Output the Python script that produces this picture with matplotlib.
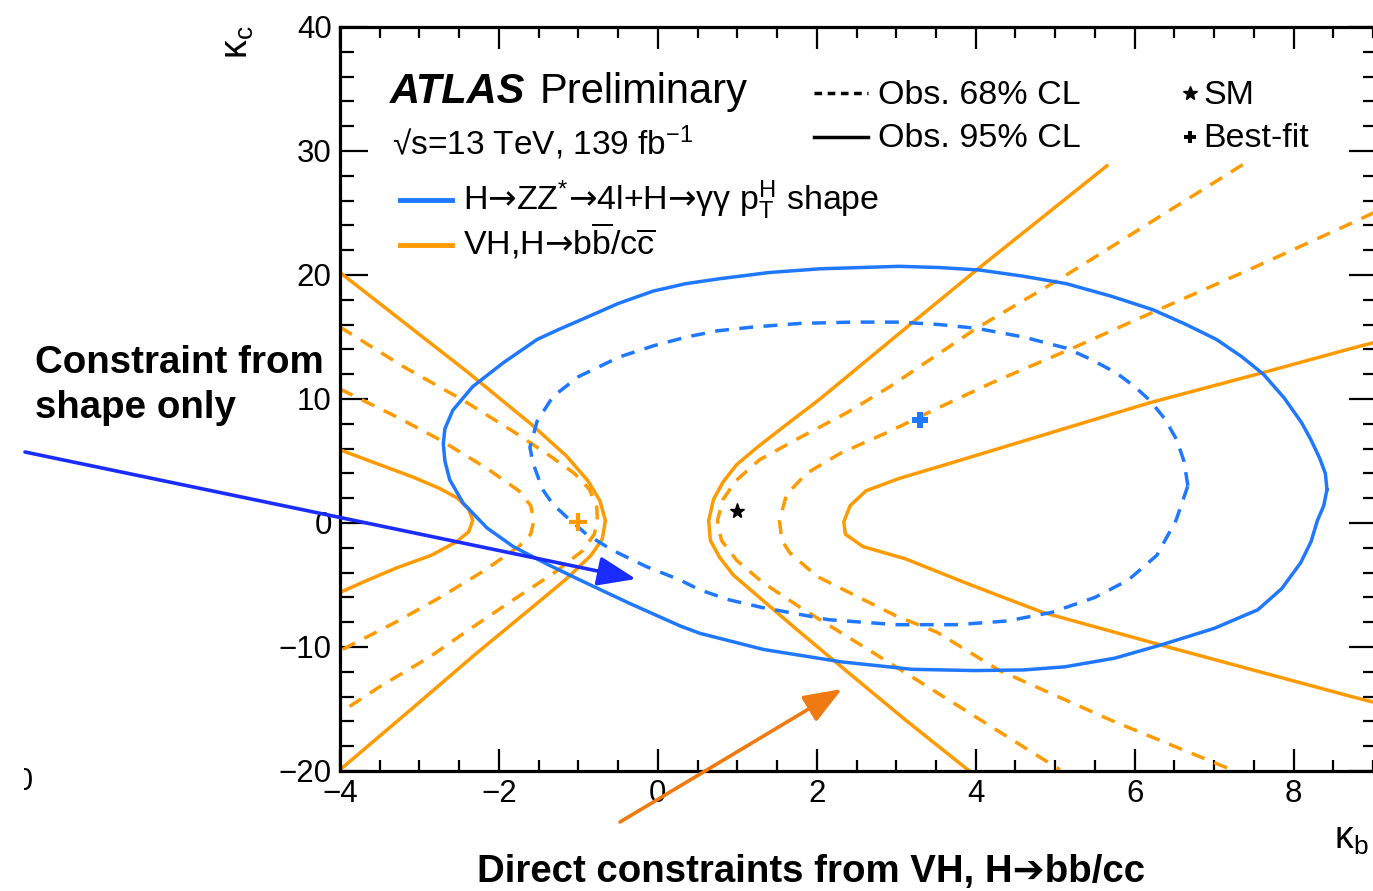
import matplotlib
matplotlib.use("Agg")
import matplotlib.pyplot as plt
from matplotlib.lines import Line2D
from matplotlib.patches import FancyArrowPatch
from matplotlib.ticker import MultipleLocator
from matplotlib.transforms import Bbox

plt.rcParams["font.family"] = ["Liberation Sans", "DejaVu Sans"]
plt.rcParams["mathtext.fontset"] = "custom"
plt.rcParams["mathtext.rm"] = "Liberation Sans"
plt.rcParams["mathtext.it"] = "Liberation Sans:italic"
plt.rcParams["mathtext.bf"] = "Liberation Sans:bold"
plt.rcParams["mathtext.sf"] = "DejaVu Sans"
plt.rcParams["mathtext.fallback"] = "stix"

BLUE = "#1f78ff"
ORANGE = "#ff9a00"

# ---- pT shape constraint (closed contours) ----
kb_shape95 = [8.42, 8.40, 8.33, 8.22, 8.10, 7.88, 7.62, 7.35, 7.03, 6.65, 6.23, 5.70,
              5.14, 4.60, 4.05, 3.55, 3.04, 2.04, 1.40, 0.78, 0.35, -0.06, -0.50,
              -0.89, -1.25, -1.52, -1.95, -2.33, -2.58, -2.68, -2.70, -2.68, -2.62,
              -2.45, -2.15, -1.82, -1.40, -0.98, -0.35, 0.28, 0.53, 1.33, 2.31, 3.20,
              3.99, 4.60, 5.12, 5.75, 6.35, 7.00, 7.55, 7.85, 8.09, 8.22, 8.30, 8.38,
              8.42]
kc_shape95 = [2.7, 4.0, 5.2, 6.7, 8.1, 10.1, 12.0, 13.4, 14.8, 16.0, 17.2, 18.3,
              19.3, 19.9, 20.4, 20.6, 20.7, 20.5, 20.2, 19.7, 19.3, 18.7, 17.7,
              16.6, 15.6, 14.8, 12.9, 11.0, 9.1, 7.6, 6.4, 5.0, 3.5,
              1.6, -0.4, -1.9, -3.3, -4.6, -6.5, -8.3, -8.9, -10.2, -11.2, -11.8,
              -11.9, -11.85, -11.6, -10.9, -9.8, -8.5, -7.0, -5.3, -3.2, -1.5, 0.2, 1.4,
              2.7]

kb_shape68 = [6.67, 6.62, 6.53, 6.38, 6.19, 6.00, 5.77, 5.45, 5.14, 4.60, 4.01, 3.55,
              3.04, 2.45, 1.80, 1.19, 0.75, 0.36, -0.05, -0.48, -1.00, -1.32, -1.52,
              -1.61, -1.57, -1.45, -1.32, -1.15, -0.90, -0.57, -0.15, 0.28, 0.53, 0.90,
              1.30, 2.15, 3.00, 3.76, 4.40, 4.96, 5.50, 5.92, 6.28, 6.52, 6.67]
kc_shape68 = [3.0, 5.0, 6.7, 8.4, 9.9, 11.0, 12.1, 13.2, 14.1, 15.0, 15.7, 16.0,
              16.2, 16.2, 16.1, 15.8, 15.5, 15.0, 14.3, 13.4, 11.8, 10.2, 8.2,
              6.1, 4.8, 2.7, 1.5, 0.5, -0.9, -2.2, -3.5, -4.6, -5.4, -6.2,
              -6.8, -7.8, -8.2, -8.2, -7.9, -7.2, -6.0, -4.6, -2.6, 0.2, 3.0]

# ---- VH, H->bb/cc contours (open branches) ----
kb_vh95_l_out = [-4.0, -3.2, -2.4, -1.6, -1.15, -0.88, -0.73, -0.66, -0.70, -0.84,
                 -1.15, -1.6, -2.3, -3.1, -4.0]
kc_vh95_l_out = [20.2, 16.2, 12.2, 8.0, 5.4, 3.4, 1.8, 0.2, -1.3, -2.6,
                 -4.5, -6.9, -10.6, -15.0, -19.9]
kb_vh95_l_in = [-4.0, -3.5, -3.08, -2.75, -2.52, -2.38, -2.33, -2.38, -2.53, -2.85,
                -3.28, -3.65, -4.0]
kc_vh95_l_in = [5.9, 4.7, 3.7, 2.8, 2.0, 1.1, 0.2, -0.7, -1.5, -2.6, -3.6, -4.6, -5.6]
kb_vh68_l_out = [-4.0, -3.2, -2.45, -1.8, -1.4, -1.05, -0.86, -0.77, -0.76, -0.80,
                 -0.94, -1.3, -1.82, -2.4, -2.87, -3.5, -4.0]
kc_vh68_l_out = [15.8, 12.6, 9.9, 7.3, 5.6, 4.0, 2.7, 1.3, 0.2, -0.9,
                 -2.2, -4.0, -6.2, -8.7, -10.8, -13.2, -15.3]
kb_vh68_l_in = [-4.0, -3.3, -2.74, -2.15, -1.75, -1.60, -1.56, -1.60, -1.75, -2.2,
                -2.74, -3.3, -4.0]
kc_vh68_l_in = [10.8, 8.6, 6.7, 4.4, 2.6, 1.4, 0.2, -0.9, -1.9, -3.9, -6.0, -8.0, -10.3]

kb_vh95_r_out = [5.65, 4.01, 3.04, 2.04, 1.57, 1.25, 0.99, 0.82, 0.70, 0.64, 0.66,
                 0.78, 0.95, 1.35, 1.75, 2.31, 3.1, 3.92]
kc_vh95_r_out = [28.8, 20.4, 15.3, 10.0, 7.7, 6.1, 4.7, 3.3, 1.9, 0.2, -1.4,
                 -2.8, -4.2, -6.4, -8.6, -11.6, -15.8, -20.0]
kb_vh95_r_in = [9.1, 8.74, 7.6, 6.19, 3.67, 3.04, 2.62, 2.42, 2.34, 2.36, 2.58,
                3.12, 3.9, 4.84, 6.42, 8.73, 9.1]
kc_vh95_r_in = [14.7, 14.1, 12.1, 9.7, 4.8, 3.6, 2.6, 1.4, 0.1, -0.9, -1.9,
                -2.9, -4.9, -7.2, -10.0, -14.0, -14.6]
kb_vh68_r_out = [7.36, 5.09, 4.01, 2.92, 2.38, 1.79, 1.28, 0.98, 0.82, 0.75, 0.80,
                 0.99, 1.32, 1.79, 3.07, 5.06]
kc_vh68_r_out = [28.9, 19.8, 15.7, 11.0, 8.9, 6.9, 5.1, 3.4, 1.9, 0.2, -1.4,
                 -3.0, -4.8, -6.8, -11.9, -19.9]
kb_vh68_r_in = [9.1, 8.77, 7.5, 6.23, 5.22, 4.2, 3.5, 2.92, 2.29, 1.87, 1.62, 1.53,
                1.56, 1.66, 2.0, 2.5, 3.0, 3.51, 4.30, 5.7, 7.22]
kc_vh68_r_in = [25.3, 24.3, 20.6, 17.0, 14.1, 11.3, 9.2, 7.4, 5.6, 4.0, 2.3, 0.2,
                -1.4, -2.4, -4.3, -5.9, -7.5, -8.8, -11.9, -15.9, -19.9]

# points: SM, best fits
sm_point = (1.0, 1.0)
bestfit_shape = (3.3, 8.3)
bestfit_vh = (-1.0, 0.1)

W, H = 1373, 891
fig = plt.figure(figsize=(W / 100, H / 100), dpi=100)
ax = fig.add_axes([340 / W, 120 / H, 1037 / W, 744 / H])
ax.set_xlim(-4, 9.05)
ax.set_ylim(-20, 40)

lw = 2.5
dash = (0, (4, 3))

vh_solid = [(kb_vh95_l_out, kc_vh95_l_out), (kb_vh95_l_in, kc_vh95_l_in),
            (kb_vh95_r_out, kc_vh95_r_out), (kb_vh95_r_in, kc_vh95_r_in)]
vh_dashed = [(kb_vh68_l_out, kc_vh68_l_out), (kb_vh68_l_in, kc_vh68_l_in),
             (kb_vh68_r_out, kc_vh68_r_out), (kb_vh68_r_in, kc_vh68_r_in)]
for xs, ys in vh_solid:
    ax.plot(xs, ys, color=ORANGE, lw=lw, solid_joinstyle="round")
for xs, ys in vh_dashed:
    ax.plot(xs, ys, color=ORANGE, lw=lw, ls=dash)

ax.plot(kb_shape95, kc_shape95, color=BLUE, lw=lw, solid_joinstyle="round")
ax.plot(kb_shape68, kc_shape68, color=BLUE, lw=lw, ls=dash)

ax.plot(*sm_point, marker="*", color="black", ms=11, zorder=5)
ax.plot(*bestfit_shape, marker="P", color=BLUE, ms=12, mew=0, zorder=5)
ax.plot(*bestfit_vh, marker="+", color=ORANGE, ms=13, mew=3, zorder=5)

# ROOT-like frame and ticks
ax.xaxis.set_major_locator(MultipleLocator(2))
ax.xaxis.set_minor_locator(MultipleLocator(0.5))
ax.yaxis.set_major_locator(MultipleLocator(10))
ax.yaxis.set_minor_locator(MultipleLocator(2))
ax.tick_params(which="both", direction="in", top=True, right=True, width=1.6,
               labelsize=22.5, pad=6)
ax.tick_params(axis="x", which="major", length=16)
ax.tick_params(axis="x", which="minor", length=8)
ax.tick_params(axis="y", which="major", length=20)
ax.tick_params(axis="y", which="minor", length=10)
for sp in ax.spines.values():
    sp.set_linewidth(2.3)


def px(x, y):
    return x / W, 1 - y / H


# axis titles
fig.text(*px(238, 42), "κ$_\\mathrm{c}$", rotation=90, ha="center", va="center",
         fontsize=27)
fig.text(*px(1334, 849), "κ$_\\mathrm{b}$", ha="left", va="baseline", fontsize=27)

# ATLAS label
fig.text(*px(390, 103), "ATLAS", fontsize=30, fontweight="bold", fontstyle="italic",
         va="baseline")
fig.text(*px(540, 103), "Preliminary", fontsize=30, va="baseline")
fig.text(*px(392, 155), "√s=13 TeV, 139 fb$^{-1}$", fontsize=24, va="baseline")

# channel legend (arrow glyph from DejaVu, no relation spacing)
arrow = "$\\mathsf{\u2192}$"
fig.add_artist(Line2D([400 / W, 452 / W], [1 - 200 / H] * 2, color=BLUE, lw=3.5,
                      transform=fig.transFigure))
fig.add_artist(Line2D([400 / W, 452 / W], [1 - 245 / H] * 2, color=ORANGE, lw=3.5,
                      transform=fig.transFigure))
fig.text(*px(463, 210),
         f"H{arrow}ZZ$^{{*}}${arrow}4l+H{arrow}γγ p$_{{\\mathrm{{T}}}}^{{\\mathrm{{H}}}}$ shape",
         fontsize=24.5, va="baseline")
fig.text(*px(463, 255),
         f"VH,H{arrow}b$\\overline{{\\mathrm{{b}}}}$/c$\\overline{{\\mathrm{{c}}}}$",
         fontsize=24.5, va="baseline")

# CL legend
fig.add_artist(Line2D([814 / W, 868 / W], [1 - 93 / H] * 2, color="black", lw=2.5,
                      ls=(0, (2.2, 1.6)), transform=fig.transFigure))
fig.add_artist(Line2D([814 / W, 868 / W], [1 - 137 / H] * 2, color="black", lw=2.5,
                      transform=fig.transFigure))
fig.text(*px(878, 104), "Obs. 68% CL", fontsize=24.5, va="baseline")
fig.text(*px(878, 147), "Obs. 95% CL", fontsize=24.5, va="baseline")
fig.add_artist(Line2D([1190 / W], [1 - 93 / H], marker="*", color="black", ms=10,
                      transform=fig.transFigure))
fig.add_artist(Line2D([1190 / W], [1 - 137 / H], marker="P", color="black", ms=9,
                      mew=0, transform=fig.transFigure))
fig.text(*px(1203, 104), "SM", fontsize=24.5, va="baseline")
fig.text(*px(1203, 147), "Best-fit", fontsize=24.5, va="baseline")

# annotations
fig.text(*px(35, 373), "Constraint from", fontsize=27.7, fontweight="bold",
         va="baseline")
fig.text(*px(35, 418), "shape only", fontsize=27.7, fontweight="bold", va="baseline")
fig.text(*px(477, 882), "Direct constraints from VH, H➔bb/cc", fontsize=27.6,
         fontweight="bold", va="baseline")

fig.add_artist(FancyArrowPatch(px(25, 452), px(636, 579), transform=fig.transFigure,
                               arrowstyle="-|>,head_length=1.3,head_width=0.5",
                               mutation_scale=18, lw=2.6, color="#1a2cff",
                               shrinkA=0, shrinkB=0))
fig.add_artist(FancyArrowPatch(px(620, 822), px(842, 689), transform=fig.transFigure,
                               arrowstyle="-|>,head_length=1.3,head_width=0.5",
                               mutation_scale=18, lw=2.6, color="#f07a12",
                               shrinkA=0, shrinkB=0))

# partial label at the lower left edge
t = fig.text(*px(33, 782), "0", fontsize=22, ha="right", va="center")
t.set_clip_box(Bbox.from_extents(24, 0, 60, 891))
t.set_clip_on(True)

fig.savefig("out.png", dpi=100)
